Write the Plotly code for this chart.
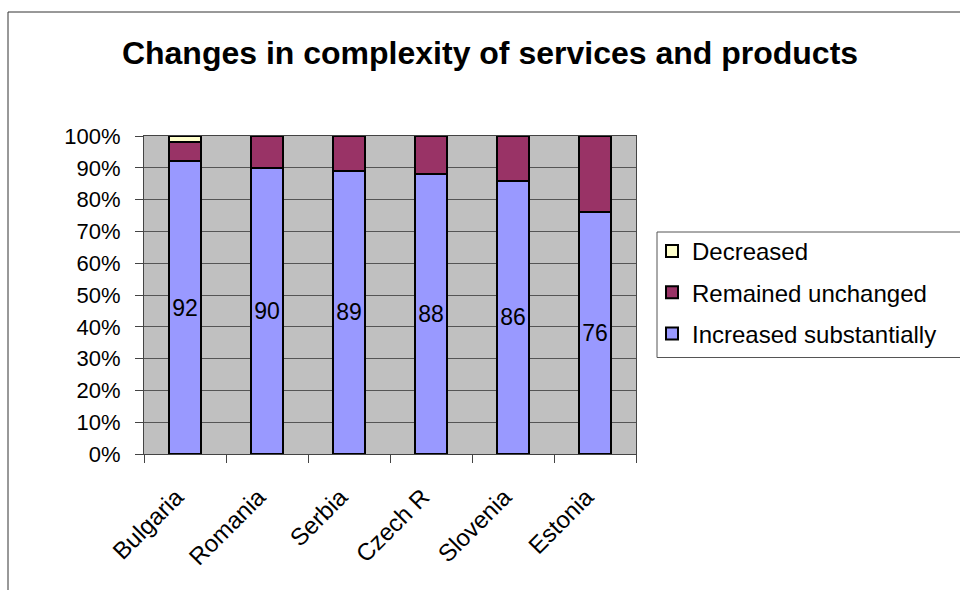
import plotly.graph_objects as go

countries = ["Bulgaria", "Romania", "Serbia", "Czech R", "Slovenia", "Estonia"]
increased = [92, 90, 89, 88, 86, 76]
unchanged = [6, 10, 11, 12, 14, 24]
decreased = [2, 0, 0, 0, 0, 0]

y_ticks = list(range(0, 101, 10))
y_tick_labels = [f"{v}%" for v in y_ticks]

FONT = "Liberation Sans, Arial, sans-serif"

# plot area in pixels (figure is 960 x 590)
L, R, T, B = 144, 636, 136, 454
PW, PH = R - L, B - T


def px_x(x):
    return (x - L) / PW


def px_y(y):
    return (B - y) / PH


fig = go.Figure()

fig.add_trace(go.Bar(
    name="Increased substantially", x=countries, y=increased,
    marker=dict(color="#9999FF", line=dict(color="black", width=2)),
    text=increased, texttemplate="%{text}", textposition="inside",
    insidetextanchor="middle", textangle=0, constraintext="none",
    textfont=dict(family=FONT, size=23, color="black"),
    legendgroup="a", legendrank=3, width=0.4,
))
fig.add_trace(go.Bar(
    name="Remained unchanged", x=countries, y=unchanged,
    marker=dict(color="#993366", line=dict(color="black", width=2)),
    legendgroup="b", legendrank=2, width=0.4,
))
fig.add_trace(go.Bar(
    name="Decreased", x=countries, y=decreased,
    marker=dict(color="#FFFFCC", line=dict(color="black", width=2)),
    legendgroup="c", legendrank=1, width=0.4,
))

shapes = [
    # chart frame
    dict(type="rect", xref="paper", yref="paper",
         x0=px_x(8), y0=px_y(12), x1=px_x(1200), y1=px_y(900),
         line=dict(color="#333333", width=1), fillcolor="rgba(0,0,0,0)",
         layer="below"),
    # legend frame
    dict(type="rect", xref="paper", yref="paper",
         x0=px_x(657), y0=px_y(232), x1=px_x(1100), y1=px_y(357.5),
         line=dict(color="#555555", width=1), fillcolor="rgba(0,0,0,0)"),
]

# rotated category labels, padded so they sit a little left of the tick
x_tick_labels = [c + "\u2002" for c in countries]

fig.update_layout(
    width=960, height=590,
    margin=dict(l=L, r=960 - R, t=T, b=590 - B, autoexpand=False),
    paper_bgcolor="white", plot_bgcolor="#C0C0C0",
    barmode="stack", bargap=0.6,
    font=dict(family=FONT, color="black"),
    title=dict(
        text="<b>Changes in complexity of services and products</b>",
        font=dict(family=FONT, size=32, color="black"),
        x=px_x(490), xref="paper", xanchor="center",
        y=1 - 53 / 590, yref="container", yanchor="middle",
    ),
    legend=dict(
        x=px_x(652), y=px_y(229), xanchor="left", yanchor="top",
        traceorder="grouped", tracegroupgap=7,
        font=dict(family=FONT, size=24, color="black"),
        bgcolor="rgba(0,0,0,0)", borderwidth=0,
    ),
    xaxis=dict(
        type="category", range=[-0.5, 5.5],
        tickvals=countries, ticktext=x_tick_labels,
        showline=True, linecolor="#444444", linewidth=1, mirror=True,
        ticks="outside", tickson="boundaries", ticklen=8,
        tickcolor="#444444", tickwidth=1,
        tickangle=-45, ticklabelstandoff=10,
        tickfont=dict(family=FONT, size=24, color="black"),
        showgrid=False, fixedrange=True,
    ),
    yaxis=dict(
        range=[0, 100], tickvals=y_ticks, ticktext=y_tick_labels,
        showline=True, linecolor="#444444", linewidth=1, mirror=True,
        ticks="outside", ticklen=8, tickcolor="#444444", tickwidth=1,
        ticklabelstandoff=10,
        tickfont=dict(family=FONT, size=22, color="black"),
        showgrid=True, gridcolor="#555555", gridwidth=1,
        zeroline=False, fixedrange=True,
    ),
    shapes=shapes,
    showlegend=True,
)

fig.write_html("out.html")
